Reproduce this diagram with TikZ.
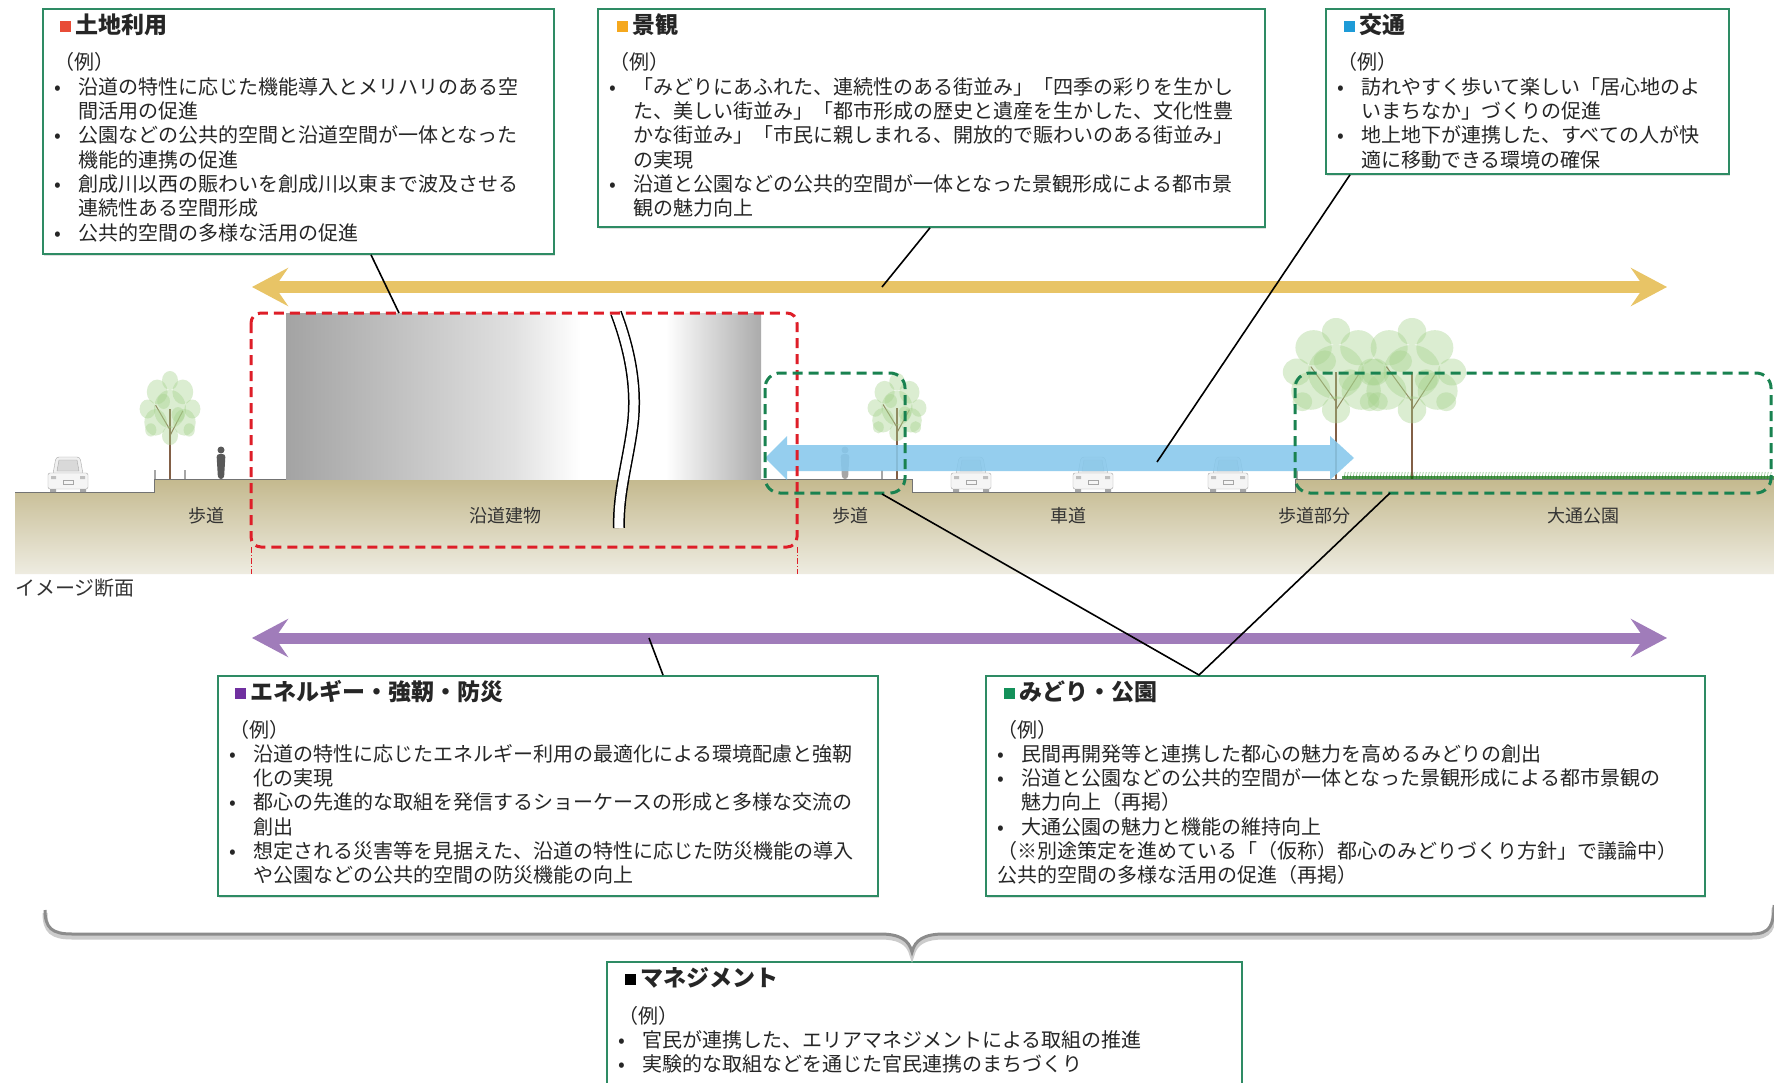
\documentclass[tikz,border=0pt]{standalone}
\usepackage{fontspec}
\setmainfont{Noto Sans CJK JP}
\usetikzlibrary{arrows.meta, positioning, calc, shadows}
\definecolor{boxgreen}{RGB}{46,139,100}
\definecolor{landred}{RGB}{232,76,55}
\definecolor{sceneorange}{RGB}{245,168,30}
\definecolor{trafficblue}{RGB}{30,155,215}
\definecolor{energypurple}{RGB}{112,48,160}
\definecolor{parkgreen}{RGB}{20,145,90}
\definecolor{arrowgold}{RGB}{232,196,102}
\definecolor{arrowviolet}{RGB}{160,124,186}
\definecolor{arrowblue}{RGB}{135,200,236}
\definecolor{groundtop}{RGB}{196,185,142}
\definecolor{groundbot}{RGB}{238,236,225}
\definecolor{dashred}{RGB}{222,30,40}
\definecolor{dashgreen}{RGB}{25,130,80}
\definecolor{leafgreen}{RGB}{165,210,140}
\definecolor{trunkbrown}{RGB}{130,95,70}

% building wall: dark at both ends, bright towards the break
\pgfdeclarehorizontalshading{bldgshade}{100bp}{color(0bp)=(black!36); color(25bp)=(black!36); color(49bp)=(black!12); color(56bp)=(white); color(65bp)=(white); color(75bp)=(black!33); color(100bp)=(black!33)}

\newcommand{\hd}[2]{\textcolor{#1}{\raisebox{1.5pt}{\rule{11pt}{11pt}}}\hspace{4pt}\textbf{#2}}
\newcommand{\bul}{\makebox[24pt][l]{•}}
\newcommand{\ind}{\hspace*{24pt}}

% tree: x, ground y, crown centre y, crown rx, crown ry
\newcommand{\drawtree}[5]{%
  \draw[trunkbrown, line width=2pt] (#1,#2) -- (#1,#3);
  \draw[trunkbrown, line width=1pt] (#1,{#3+0.55*#5}) -- ({#1-0.45*#4},{#3-0.1*#5});
  \draw[trunkbrown, line width=1pt] (#1,{#3+0.7*#5}) -- ({#1+0.4*#4},{#3+0.05*#5});
  \foreach \dx/\dy/\sc in {0/0/1, -0.45/0.35/0.7, 0.45/0.35/0.7, -0.4/-0.45/0.65, 0.4/-0.45/0.65, 0/-0.75/0.5, 0/0.7/0.5, -0.7/0/0.5, 0.7/0/0.5, -0.2/-0.2/0.4, 0.25/0.15/0.4, -0.6/0.55/0.35, 0.6/0.55/0.35}
    \fill[leafgreen, fill opacity=0.4] ({#1+\dx*#4},{#3+\dy*#5}) ellipse ({0.5*\sc*#4} and {0.5*\sc*#5});
}
% car seen from behind: centre x, road y
\newcommand{\drawcar}[2]{%
  \draw[gray!70, fill=gray!12, rounded corners=3pt] (#1-15,#2-18) -- (#1-12,#2-35) -- (#1+12,#2-35) -- (#1+15,#2-18);
  \draw[gray!70, fill=gray!8, rounded corners=2pt] (#1-20,#2-3) rectangle (#1+20,#2-19);
  \draw[gray!70, fill=gray!30] (#1-11,#2-21) -- (#1-9,#2-32) -- (#1+9,#2-32) -- (#1+11,#2-21) -- cycle;
  \fill[gray!70] (#1-18,#2) rectangle (#1-12,#2-3) (#1+12,#2) rectangle (#1+18,#2-3);
  \draw[gray!70] (#1-5,#2-8) rectangle (#1+5,#2-12);
  \fill[gray!50] (#1-17,#2-13) rectangle (#1-12,#2-16) (#1+12,#2-13) rectangle (#1+17,#2-16);
}
% walker: x, ground y, colour
\newcommand{\drawwalker}[3]{%
  \fill[#3] (#1,#2-29) circle (3.5);
  \fill[#3, rounded corners=3pt] (#1-4.5,#2-25) -- (#1+4.5,#2-25) -- (#1+3,#2) -- (#1-3,#2) -- cycle;
}

\begin{document}
\begin{tikzpicture}[
    x=1pt, y=-1pt,
    infobox/.style={draw=boxgreen, line width=1.8pt, fill=white, anchor=north west, inner sep=0pt,
        drop shadow={opacity=0.25, shadow xshift=1.5pt, shadow yshift=-2pt}},
    boxhead/.style={font=\fontsize{23pt}{26pt}\selectfont, text=black!85, inner sep=0pt, anchor=west},
    boxbody/.style={font=\fontsize{20pt}{24.3pt}\selectfont, text=black!85, inner sep=0pt, anchor=base west},
    glabel/.style={font=\fontsize{18pt}{20pt}\selectfont, text=black!80, inner sep=0pt},
    zone/.style={line width=3pt, dash pattern=on 10pt off 6pt},
    flow/.style={line width=11pt, arrows={Stealth[length=36pt,width=38pt,inset=13pt]-Stealth[length=36pt,width=38pt,inset=13pt]}},
    link/.style={black, line width=1.6pt},
]
    \fill[white] (0,0) rectangle (1774,1083);
    \useasboundingbox (0,0) rectangle (1774,1083);

    % Ground section
    \shade[top color=groundtop, bottom color=groundbot] (15,492) -- (154,492) -- (154,479) -- (912,479) -- (912,492) -- (1295,492) -- (1295,479) -- (1774,479) -- (1774,574) -- (15,574) -- cycle;
    \draw[black!55, line width=0.8pt] (15,492) -- (154,492) -- (154,479) -- (912,479) -- (912,492) -- (1295,492) -- (1295,479) -- (1774,479);

    % Roadside building with break
    \shade[shading=bldgshade] (286,313) rectangle (761,479);
    \draw[black, line width=12pt] (616,313) .. controls (630,350) and (638,390) .. (632,430) .. controls (627,465) and (618,495) .. (619,528);
    \draw[white, line width=9pt] (616,313) .. controls (630,350) and (638,390) .. (632,430) .. controls (627,465) and (618,495) .. (619,528);

    % Street furniture, trees, cars and walkers
    \foreach \bx in {155,185,882,897,1297}
        \fill[gray!70] (\bx-1.3,479) rectangle (\bx+1.3,470);
    \drawtree{170}{479}{409}{32}{38}
    \drawtree{897}{479}{408}{31}{35}
    \drawtree{1336}{479}{372}{56}{54}
    \drawtree{1412}{479}{372}{57}{54}
    \draw[green!40!black, line width=2.5pt, opacity=0.7] (1342,477.5) -- (1774,477.5);
    \foreach \gx in {1344,1347,...,1772}
        \draw[green!45!black, opacity=0.7] (\gx,479) -- ++(1.2,-7);
    \drawcar{68}{492}
    \drawcar{971}{492}
    \drawcar{1093}{492}
    \drawcar{1228}{492}
    \drawwalker{221}{479}{black!65}
    \drawwalker{845}{479}{black!35}

    % Traffic band
    \coordinate (blueL) at (765,458);
    \coordinate (blueR) at (1354,458);
    \fill[arrowblue, opacity=0.88] (blueL) -- ++(22,-22) -- ++(0,9) -- ($(blueR)+(-24,-13)$) -- ++(0,-9) -- (blueR) -- ++(-24,22) -- ++(0,-9) -- ($(blueL)+(22,13)$) -- ++(0,9) -- cycle;

    % Dashed zones
    \draw[dashred, zone, rounded corners=10pt] (251,313) rectangle (797,547);
    \draw[dashred, line width=0.6pt, dash pattern=on 6pt off 2pt on 1pt off 2pt] (251,547) -- (251,574) (797,547) -- (797,574);
    \draw[dashgreen, zone, rounded corners=15pt] (765,373) rectangle (905,493);
    \draw[dashgreen, zone, rounded corners=15pt] (1295,373) rectangle (1771,493);

    % Ground labels
    \node[glabel] (walkW) at (206,516) {歩道};
    \node[glabel] (bldg) at (505,516) {沿道建物};
    \node[glabel] (walkE) at (850,516) {歩道};
    \node[glabel] (road) at (1068,516) {車道};
    \node[glabel] (walkP) at (1314,516) {歩道部分};
    \node[glabel] (odori) at (1583,516) {大通公園};
    \node[font=\fontsize{20pt}{22pt}\selectfont, text=black!80, inner sep=0pt, anchor=west] (section) at (15,588) {イメージ断面};

    % Long arrows
    \coordinate (goldL) at (252,287);
    \coordinate (goldR) at (1667,287);
    \draw[flow, arrowgold] (goldL) -- (goldR);
    \coordinate (violetL) at (252,638);
    \coordinate (violetR) at (1667,638);
    \draw[flow, arrowviolet] (violetL) -- (violetR);

    % Land use
    \node[infobox, minimum width=511pt, minimum height=245pt] (land) at (42,8) {};
    \node[boxhead] (landhead) at (60,25) {\hd{landred}{土地利用}};
    \node[boxbody] (landtext) at (54,70) {\parbox[t]{495pt}{（例）\\
        \bul 沿道の特性に応じた機能導入とメリハリのある空\\
        \ind 間活用の促進\\
        \bul 公園などの公共的空間と沿道空間が一体となった\\
        \ind 機能的連携の促進\\
        \bul 創成川以西の賑わいを創成川以東まで波及させる\\
        \ind 連続性ある空間形成\\
        \bul 公共的空間の多様な活用の促進}};

    % Townscape
    \node[infobox, minimum width=667pt, minimum height=218pt] (scene) at (597,8) {};
    \node[boxhead] (scenehead) at (617,25) {\hd{sceneorange}{景観}};
    \node[boxbody] (scenetext) at (609,70) {\parbox[t]{650pt}{（例）\\
        \bul 「みどりにあふれた、連続性のある街並み」「四季の彩りを生かし\\
        \ind た、美しい街並み」「都市形成の歴史と遺産を生かした、文化性豊\\
        \ind かな街並み」「市民に親しまれる、開放的で賑わいのある街並み」\\
        \ind の実現\\
        \bul 沿道と公園などの公共的空間が一体となった景観形成による都市景\\
        \ind 観の魅力向上}};

    % Traffic
    \node[infobox, minimum width=403pt, minimum height=165pt] (traffic) at (1325,8) {};
    \node[boxhead] (traffichead) at (1344,25) {\hd{trafficblue}{交通}};
    \node[boxbody] (traffictext) at (1337,70) {\parbox[t]{390pt}{（例）\\
        \bul 訪れやすく歩いて楽しい「居心地のよ\\
        \ind いまちなか」づくりの促進\\
        \bul 地上地下が連携した、すべての人が快\\
        \ind 適に移動できる環境の確保}};

    % Energy and disaster prevention
    \node[infobox, minimum width=660pt, minimum height=220pt] (energy) at (217,675) {};
    \node[boxhead] (energyhead) at (235,692) {\hd{energypurple}{エネルギー・強靭・防災}};
    \node[boxbody] (energytext) at (229,737) {\parbox[t]{645pt}{（例）\\
        \bul 沿道の特性に応じたエネルギー利用の最適化による環境配慮と強靭\\
        \ind 化の実現\\
        \bul 都心の先進的な取組を発信するショーケースの形成と多様な交流の\\
        \ind 創出\\
        \bul 想定される災害等を見据えた、沿道の特性に応じた防災機能の導入\\
        \ind や公園などの公共的空間の防災機能の向上}};

    % Greenery and park
    \node[infobox, minimum width=719pt, minimum height=220pt] (park) at (985,675) {};
    \node[boxhead] (parkhead) at (1004,692) {\hd{parkgreen}{みどり・公園}};
    \node[boxbody] (parktext) at (997,737) {\parbox[t]{705pt}{（例）\\
        \bul 民間再開発等と連携した都心の魅力を高めるみどりの創出\\
        \bul 沿道と公園などの公共的空間が一体となった景観形成による都市景観の\\
        \ind 魅力向上（再掲）\\
        \bul 大通公園の魅力と機能の維持向上\\
        （※別途策定を進めている「（仮称）都心のみどりづくり方針」で議論中）\\
        公共的空間の多様な活用の促進（再掲）}};

    % Management
    \node[infobox, minimum width=635pt, minimum height=140pt] (mgmt) at (606,961) {};
    \node[boxhead] (mgmthead) at (625,978) {\hd{black}{マネジメント}};
    \node[boxbody] (mgmttext) at (618,1023) {\parbox[t]{620pt}{（例）\\
        \bul 官民が連携した、エリアマネジメントによる取組の推進\\
        \bul 実験的な取組などを通じた官民連携のまちづくり}};

    % Leader lines
    \coordinate (bldgtop) at (399,313);
    \coordinate (goldpt) at (882,287);
    \coordinate (bluept) at (1157,462);
    \coordinate (violetpt) at (649,638);
    \coordinate (walkzone) at (882,494);
    \coordinate (parkzone) at (1390,493);
    \draw[link] ($(land.south west)+(329,0)$) -- (bldgtop);
    \draw[link] ($(scene.south west)+(333,0)$) -- (goldpt);
    \draw[link] ($(traffic.south west)+(25,0)$) -- (bluept);
    \draw[link] ($(energy.north west)+(446,0)$) -- (violetpt);
    \draw[link] (walkzone) -- ($(park.north west)+(214,0)$) -- (parkzone);

    % Brace gathering everything into management
    \draw[black!20, line width=5pt, yshift=-3pt] (45,910) .. controls (45,928) and (52,934) .. (72,934) -- (880,934) .. controls (900,934) and (909,940) .. (912,952) .. controls (915,940) and (924,934) .. (944,934) -- (1752,934) .. controls (1770,934) and (1774,925) .. (1774,905);
    \draw[black!45, line width=3pt] (45,910) .. controls (45,928) and (52,934) .. (72,934) -- (880,934) .. controls (900,934) and (909,940) .. (912,952) .. controls (915,940) and (924,934) .. (944,934) -- (1752,934) .. controls (1770,934) and (1774,925) .. (1774,905);
\end{tikzpicture}
\end{document}
